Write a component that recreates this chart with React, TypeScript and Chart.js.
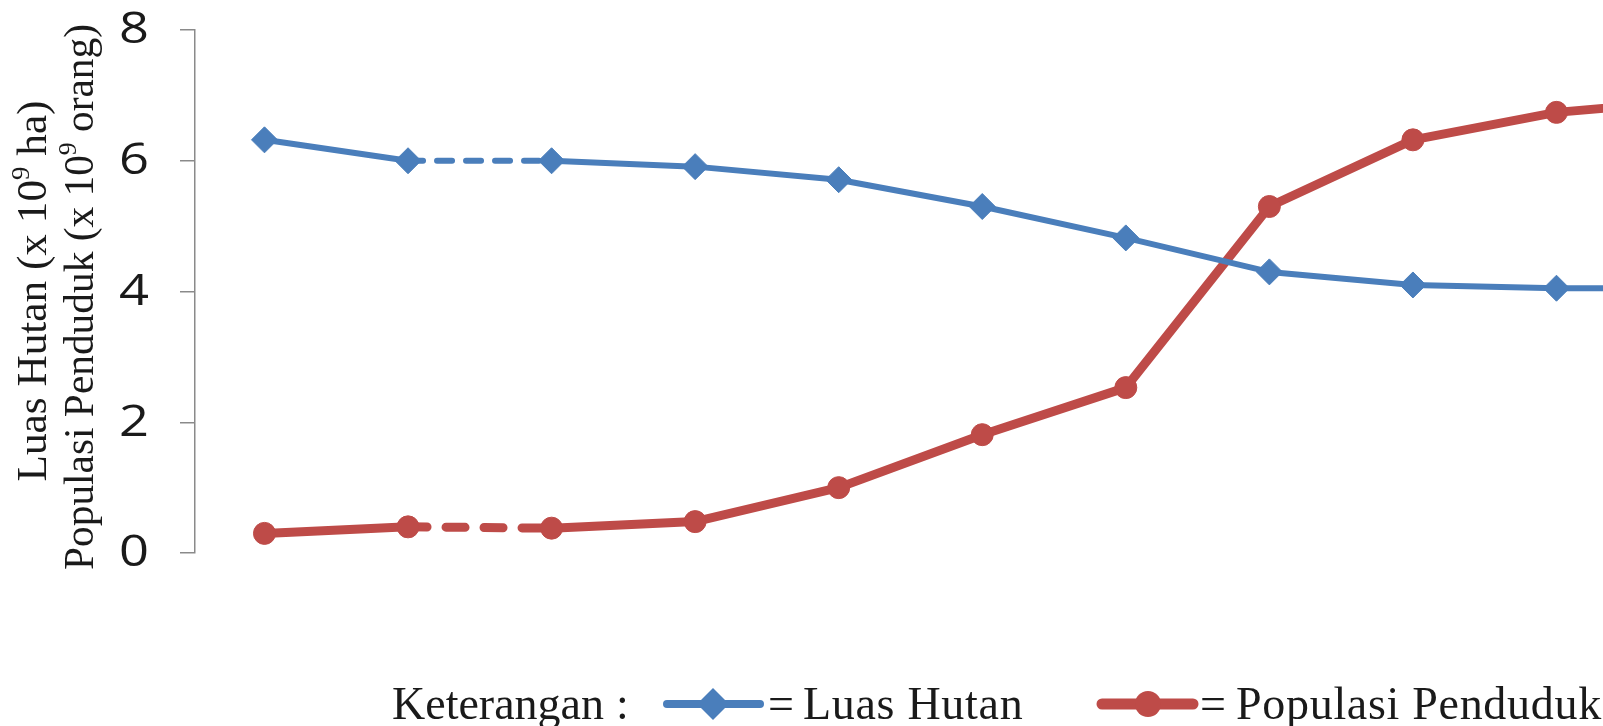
import React, { useEffect, useRef } from "react";
import { Chart, registerables } from "chart.js";

Chart.register(...registerables);

// ---- data ----
const periods = [0, 1, 2, 3, 4, 5, 6, 7, 8, 9, 10];
const luasHutan = [6.32, 6.0, 6.0, 5.91, 5.71, 5.3, 4.82, 4.3, 4.1, 4.05, 4.05];
const populasiPenduduk = [0.3, 0.4, 0.38, 0.48, 1.0, 1.81, 2.53, 5.3, 6.32, 6.74, 6.93];
const yTickValues = [0, 2, 4, 6, 8];
const dashedFromIndex = 1;
const seriesNames = ["Luas Hutan", "Populasi Penduduk"];
const legendLabel = "Keterangan";
const axisTitleLine1 = ["Luas Hutan (x 10", "9", " ha)"];
const axisTitleLine2 = ["Populasi Penduduk (x 10", "9", " orang)"];

const BLUE = "#4A7EBB";
const RED = "#BE4B48";
const AXIS = "#8A8A8A";
const TEXT = "#1A1A1A";
const SERIF = '"Liberation Serif", "Times New Roman", serif';
const SANS = '"Open Sans", sans-serif';

function drawRotatedTitle(ctx: CanvasRenderingContext2D, parts: string[], bx: number, cy: number, size: number, sx: number) {
  const supSize = Math.round(size * 0.62);
  const widths = parts.map((p, i) => {
    ctx.font = `${i === 1 ? supSize : size}px ${SERIF}`;
    return ctx.measureText(p).width;
  });
  const total = widths.reduce((a, b) => a + b, 0);
  ctx.save();
  ctx.translate(bx, cy);
  ctx.rotate(-Math.PI / 2);
  ctx.scale(sx, 1);
  ctx.fillStyle = TEXT;
  ctx.textBaseline = "alphabetic";
  ctx.textAlign = "left";
  let x = -total / 2;
  parts.forEach((p, i) => {
    ctx.font = `${i === 1 ? supSize : size}px ${SERIF}`;
    ctx.fillText(p, x, i === 1 ? -size * 0.4 : 0);
    x += widths[i];
  });
  ctx.restore();
}

function drawText(ctx: CanvasRenderingContext2D, t: string, x: number, y: number, size: number, sx: number, spacing = 0) {
  ctx.save();
  ctx.translate(x, y);
  ctx.scale(sx, 1);
  ctx.font = `${size}px ${SERIF}`;
  ctx.fillStyle = TEXT;
  ctx.textAlign = "left";
  ctx.textBaseline = "alphabetic";
  (ctx as any).letterSpacing = `${spacing}px`;
  ctx.fillText(t, 0, 0);
  ctx.restore();
}

const decorPlugin = {
  id: "decor",
  afterDraw(chart: any) {
    const ctx: CanvasRenderingContext2D = chart.ctx;
    const yScale = chart.scales.y;
    ctx.save();

    // y tick labels, positioned by the y scale
    yTickValues.forEach((v) => {
      const py = yScale.getPixelForValue(v);
      ctx.save();
      ctx.translate(yScale.right - 15 - 31, py + 1);
      ctx.scale(1.22, 1);
      ctx.font = `43px ${SANS}`;
      ctx.fillStyle = TEXT;
      ctx.textAlign = "right";
      ctx.textBaseline = "middle";
      ctx.fillText(String(v), 0, 0);
      ctx.restore();
    });

    // axis title (two lines)
    drawRotatedTitle(ctx, axisTitleLine1, 46, 291, 42, 1.03);
    drawRotatedTitle(ctx, axisTitleLine2, 93, 297, 42, 0.985);

    // legend
    const base = 719;
    drawText(ctx, legendLabel, 392, base, 46, 1);
    drawText(ctx, ":", 616, base, 46, 1);

    // blue legend sample
    ctx.strokeStyle = BLUE;
    ctx.lineWidth = 8;
    ctx.lineCap = "round";
    ctx.beginPath();
    ctx.moveTo(667, 704);
    ctx.lineTo(760, 704);
    ctx.stroke();
    ctx.fillStyle = BLUE;
    ctx.beginPath();
    ctx.moveTo(713 - 16, 704);
    ctx.lineTo(713, 704 - 16);
    ctx.lineTo(713 + 16, 704);
    ctx.lineTo(713, 704 + 16);
    ctx.closePath();
    ctx.fill();
    drawText(ctx, "=", 768, base, 46, 1);
    drawText(ctx, seriesNames[0], 803, base, 46, 1, 0.7);

    // red legend sample
    ctx.strokeStyle = RED;
    ctx.lineWidth = 11;
    ctx.beginPath();
    ctx.moveTo(1102, 704);
    ctx.lineTo(1193, 704);
    ctx.stroke();
    ctx.fillStyle = RED;
    ctx.beginPath();
    ctx.arc(1148, 704, 13, 0, Math.PI * 2);
    ctx.fill();
    drawText(ctx, "=", 1200, base, 46, 1);
    drawText(ctx, seriesNames[1], 1236, base, 46, 1, 0.7);
    ctx.restore();
  },
};

export default function App() {
  const canvasRef = useRef<HTMLCanvasElement>(null);

  useEffect(() => {
    if (!canvasRef.current) return;
    const dash = (d: number[]) => (c: any) => (c.p0DataIndex === dashedFromIndex ? d : undefined);
    const chart = new Chart(canvasRef.current, {
      type: "line",
      data: {
        datasets: [
          {
            label: seriesNames[0],
            data: periods.map((p, i) => ({ x: p, y: luasHutan[i] })),
            borderColor: BLUE,
            backgroundColor: BLUE,
            borderWidth: 6,
            borderCapStyle: "round",
            borderJoinStyle: "round",
            pointStyle: "rectRot",
            pointRadius: 13,
            pointBorderWidth: 1,
            pointBorderColor: BLUE,
            pointBackgroundColor: BLUE,
            segment: { borderDash: dash([15, 14]) },
            tension: 0,
          },
          {
            label: seriesNames[1],
            data: periods.map((p, i) => ({ x: p, y: populasiPenduduk[i] })),
            borderColor: RED,
            backgroundColor: RED,
            borderWidth: 9,
            borderCapStyle: "round",
            borderJoinStyle: "round",
            pointStyle: "circle",
            pointRadius: 11,
            pointBorderWidth: 1,
            pointBorderColor: RED,
            pointBackgroundColor: RED,
            segment: { borderDash: dash([19, 19]) },
            tension: 0,
          },
        ],
      },
      options: {
        animation: false,
        responsive: true,
        maintainAspectRatio: false,
        layout: { padding: { top: 30, bottom: 173, left: 0, right: 0 } },
        plugins: {
          legend: { display: false },
          tooltip: { enabled: false },
          title: { display: false },
        },
        scales: {
          x: {
            type: "linear",
            min: -0.484,
            max: 11.4,
            display: false,
          },
          y: {
            type: "linear",
            min: 0,
            max: 8,
            afterFit: (s: any) => {
              s.width = 195;
              s.paddingTop = 0;
              s.paddingBottom = 0;
            },
            afterBuildTicks: (s: any) => {
              s.ticks = yTickValues.map((v) => ({ value: v }));
            },
            ticks: { display: false },
            grid: {
              drawOnChartArea: false,
              drawTicks: true,
              tickLength: 15,
              color: AXIS,
              lineWidth: 1.5,
            },
            border: { display: true, color: AXIS, width: 1.5 },
          },
        },
      },
      plugins: [decorPlugin],
    } as any);
    return () => chart.destroy();
  }, []);

  return (
    <div style={{ position: "fixed", left: 0, top: 0, width: 1603, height: 726, overflow: "hidden", background: "#fff" }}>
      <div style={{ position: "relative", width: 1915, height: 726 }}>
        <canvas ref={canvasRef} />
      </div>
    </div>
  );
}
